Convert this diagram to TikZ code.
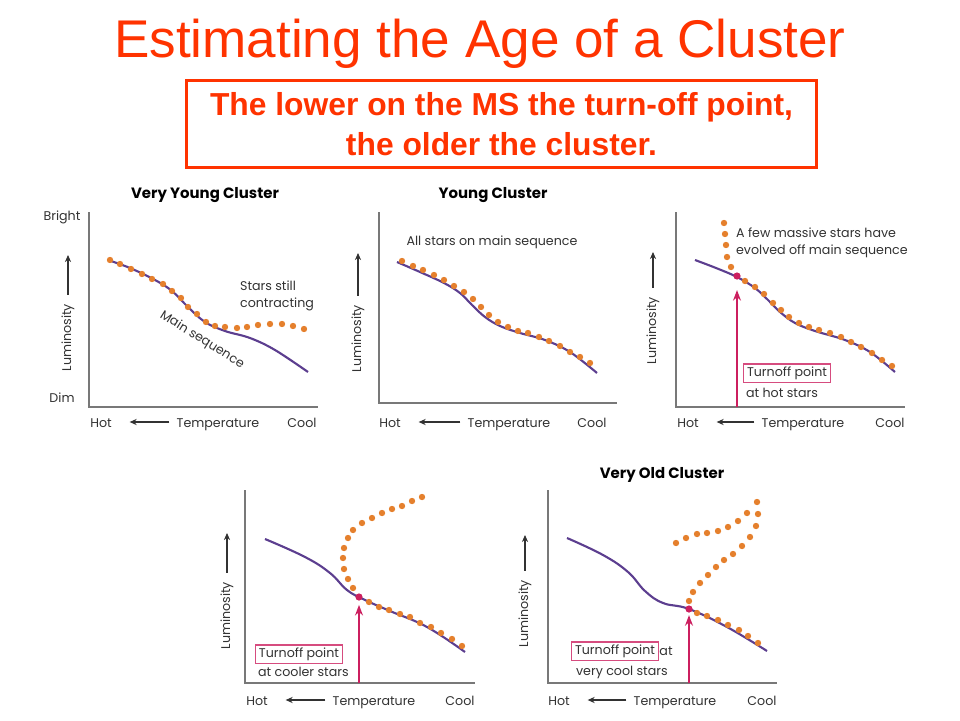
\documentclass[tikz,border=0pt]{standalone}
\usepackage{fontspec}
\setmainfont{Liberation Sans}
\newfontfamily\panelfont{Poppins}
\usetikzlibrary{arrows.meta,positioning}
\definecolor{slideorange}{RGB}{255,51,0}
\definecolor{stardot}{RGB}{229,128,45}
\definecolor{msline}{RGB}{92,62,143}
\definecolor{turnoff}{RGB}{204,31,95}
\definecolor{axisgray}{RGB}{120,120,120}
\definecolor{labelgray}{RGB}{50,50,50}
\begin{document}
\begin{tikzpicture}[x=0.02cm,y=-0.02cm,
    ax/.style={axisgray,line width=0.9pt},
    ms/.style={msline,line width=1.2pt},
    star/.style={fill=stardot},
    tdot/.style={fill=turnoff},
    lbl/.style={labelgray,font=\panelfont\fontsize{7.2}{9.5}\selectfont,inner sep=1pt},
    axl/.style={lbl,text height=1.6ex,text depth=0.4ex},
    ttl/.style={black,font=\panelfont\bfseries\fontsize{8.5}{10}\selectfont,inner sep=1pt},
    lum/.style={lbl,rotate=90,anchor=east},
    axarrow/.style={labelgray,line width=0.6pt,-{Stealth[length=4pt,width=3.5pt]}},
    tbox/.style={lbl,draw=turnoff!80,line width=0.7pt,inner xsep=2pt,inner ysep=1.5pt},
    tarrow/.style={turnoff,line width=0.9pt,-{Stealth[length=6pt,width=4.5pt]}}]
  \useasboundingbox (0,0) rectangle (960,720);

  \node[slideorange,font=\fontsize{30.2}{33}\selectfont] (title) at (480,44) {Estimating the Age of a Cluster};
  \node[draw=slideorange,line width=1.7pt,slideorange,font=\bfseries\fontsize{18.1}{22.7}\selectfont,
    align=center,minimum width=358.9pt,minimum height=49.9pt] (msg) at (501.5,124)
    {The lower on the MS the turn-off point,\\the older the cluster.};

  \draw[ax] (89,212) -- (89,407) -- (318,407);
  \node[ttl] (ttl1) at (205,195) {Very Young Cluster};
  \node[lbl] (bright) at (62,217) {Bright};
  \node[lbl] (dim) at (62,398) {Dim};
  \node[lum] (lum1) at (68,302) {Luminosity};
  \coordinate (lum1tip) at (68,255);
  \draw[axarrow,shorten <=4pt] (lum1.east) -- (lum1tip);
  \node[axl] (hot1) at (101,422) {Hot};
  \node[axl] (temp1) at (218,422) {Temperature};
  \node[axl] (cool1) at (302,422) {Cool};
  \draw[axarrow,shorten <=3pt,shorten >=9pt] (temp1.west) -- (hot1.east);
  \draw[ms] plot[smooth,tension=0.6] coordinates {(108,260) (130,268) (155,280) (172,291) (188,307) (205,322) (225,331) (250,338) (275,350) (308,372)};
  \foreach \x/\y in {110/260,120/264,131/269,142/274,152/279,163/284,172/291,181/298,188/307,197/314,206/322,215/326,225/327,237/328,247/327,258/325,270/324,282/324,293/326,304/329}
    \fill[star] (\x,\y) circle [radius=3.2];
  \node[lbl,align=left,anchor=west] (contract) at (238,296) {Stars still\\contracting};
  \node[lbl,rotate=-32] (mslbl) at (202,340) {Main sequence};

  \draw[ax] (379,212) -- (379,403) -- (617,403);
  \node[ttl] (ttl2) at (493,195) {Young Cluster};
  \node[lum] (lum2) at (358,303) {Luminosity};
  \coordinate (lum2tip) at (358,253);
  \draw[axarrow,shorten <=4pt] (lum2.east) -- (lum2tip);
  \node[axl] (hot2) at (390,422) {Hot};
  \node[axl] (temp2) at (509,422) {Temperature};
  \node[axl] (cool2) at (592,422) {Cool};
  \draw[axarrow,shorten <=3pt,shorten >=9pt] (temp2.west) -- (hot2.east);
  \node[lbl] (allms) at (492,242) {All stars on main sequence};
  \draw[ms] plot[smooth,tension=0.6] coordinates {(397,262) (420,272) (444,283) (460,293) (472,305) (485,317) (500,326) (520,333) (545,340) (570,352) (597,373)};
  \foreach \x/\y in {402/261,413/266,423/270,434/275,444/280,454/286,464/292,473/299,481/307,489/315,498/322,508/327,518/331,528/333,539/337,549/341,560/346,570/352,580/357,590/363}
    \fill[star] (\x,\y) circle [radius=3.2];

  \draw[ax] (676,212) -- (676,407) -- (905,407);
  \node[lum] (lum3) at (653,295) {Luminosity};
  \coordinate (lum3tip) at (653,252);
  \draw[axarrow,shorten <=4pt] (lum3.east) -- (lum3tip);
  \node[axl] (hot3) at (688,422) {Hot};
  \node[axl] (temp3) at (803,422) {Temperature};
  \node[axl] (cool3) at (890,422) {Cool};
  \draw[axarrow,shorten <=3pt,shorten >=9pt] (temp3.west) -- (hot3.east);
  \draw[ms] plot[smooth,tension=0.6] coordinates {(695,260) (716,268) (737,277) (755,288) (768,300) (780,312) (795,323) (815,331) (845,340) (870,352) (895,372)};
  \foreach \x/\y in {724/223,725/234,726/245,727/257,731/267,745/281,755/287,764/294,773/303,781/310,789/317,799/323,809/327,819/330,830/333,841/337,851/342,861/347,872/353,882/360,892/366}
    \fill[star] (\x,\y) circle [radius=3.2];
  \node[lbl,align=left,anchor=west] (fewmassive) at (734,243) {A few massive stars have\\evolved off main sequence};
  \coordinate (to3) at (737,276);
  \coordinate (base3) at (737,407);
  \fill[tdot] (to3) circle [radius=3.6];
  \draw[tarrow,shorten >=8pt] (base3) -- (to3);
  \node[tbox] (box3) at (787,373) {Turnoff point};
  \node[lbl,anchor=west] (hotstars) at (744,393) {at hot stars};

  \draw[ax] (245,490) -- (245,683) -- (475,683);
  \node[lum] (lum4) at (227,580) {Luminosity};
  \coordinate (lum4tip) at (227,533);
  \draw[axarrow,shorten <=4pt] (lum4.east) -- (lum4tip);
  \node[axl] (hot4) at (257,700) {Hot};
  \node[axl] (temp4) at (374,700) {Temperature};
  \node[axl] (cool4) at (460,700) {Cool};
  \draw[axarrow,shorten <=3pt,shorten >=9pt] (temp4.west) -- (hot4.east);
  \draw[ms] plot[smooth,tension=0.7] coordinates {(265,539) (305,557) (330,573) (347,590) (365,600) (390,611) (427,627) (465,652)};
  \foreach \x/\y in {353/588,348/579,344/569,343/558,344/548,348/538,353/530,362/523,372/518,382/513,392/509,402/506,412/501,422/497,369/602,379/607,389/610,400/614,410/617,420/623,431/627,441/633,452/639,462/646}
    \fill[star] (\x,\y) circle [radius=3.2];
  \coordinate (to4) at (359,597);
  \coordinate (base4) at (359,683);
  \fill[tdot] (to4) circle [radius=3.6];
  \draw[tarrow,shorten >=4.5pt] (base4) -- (to4);
  \node[tbox] (box4) at (299,654) {Turnoff point};
  \node[lbl,anchor=west] (coolerstars) at (256,672) {at cooler stars};

  \draw[ax] (548,490) -- (548,683) -- (777,683);
  \node[ttl] (ttl5) at (662,475) {Very Old Cluster};
  \node[lum] (lum5) at (525,578) {Luminosity};
  \coordinate (lum5tip) at (525,535);
  \draw[axarrow,shorten <=4pt] (lum5.east) -- (lum5tip);
  \node[axl] (hot5) at (559,700) {Hot};
  \node[axl] (temp5) at (675,700) {Temperature};
  \node[axl] (cool5) at (762,700) {Cool};
  \draw[axarrow,shorten <=3pt,shorten >=9pt] (temp5.west) -- (hot5.east);
  \draw[ms] plot[smooth,tension=0.7] coordinates {(567,538) (603,555) (628,572) (645,591) (663,603) (689,609) (727,627) (767,651)};
  \foreach \x/\y in {689/601,693/592,700/583,708/575,716/567,724/560,733/554,742/546,750/537,756/526,758/514,757/502,747/513,738/521,728/527,718/531,707/533,697/534,686/538,676/543,697/613,707/616,718/620,728/625,739/630,748/636,758/643}
    \fill[star] (\x,\y) circle [radius=3.2];
  \coordinate (to5) at (689,609);
  \coordinate (base5) at (689,683);
  \fill[tdot] (to5) circle [radius=3.6];
  \draw[tarrow,shorten >=3.5pt] (base5) -- (to5);
  \node[tbox] (box5) at (615,651) {Turnoff point};
  \node[lbl,right=-1pt of box5] (at5) {at};
  \node[lbl,anchor=west] (verycool) at (574,672) {very cool stars};
\end{tikzpicture}
\end{document}
